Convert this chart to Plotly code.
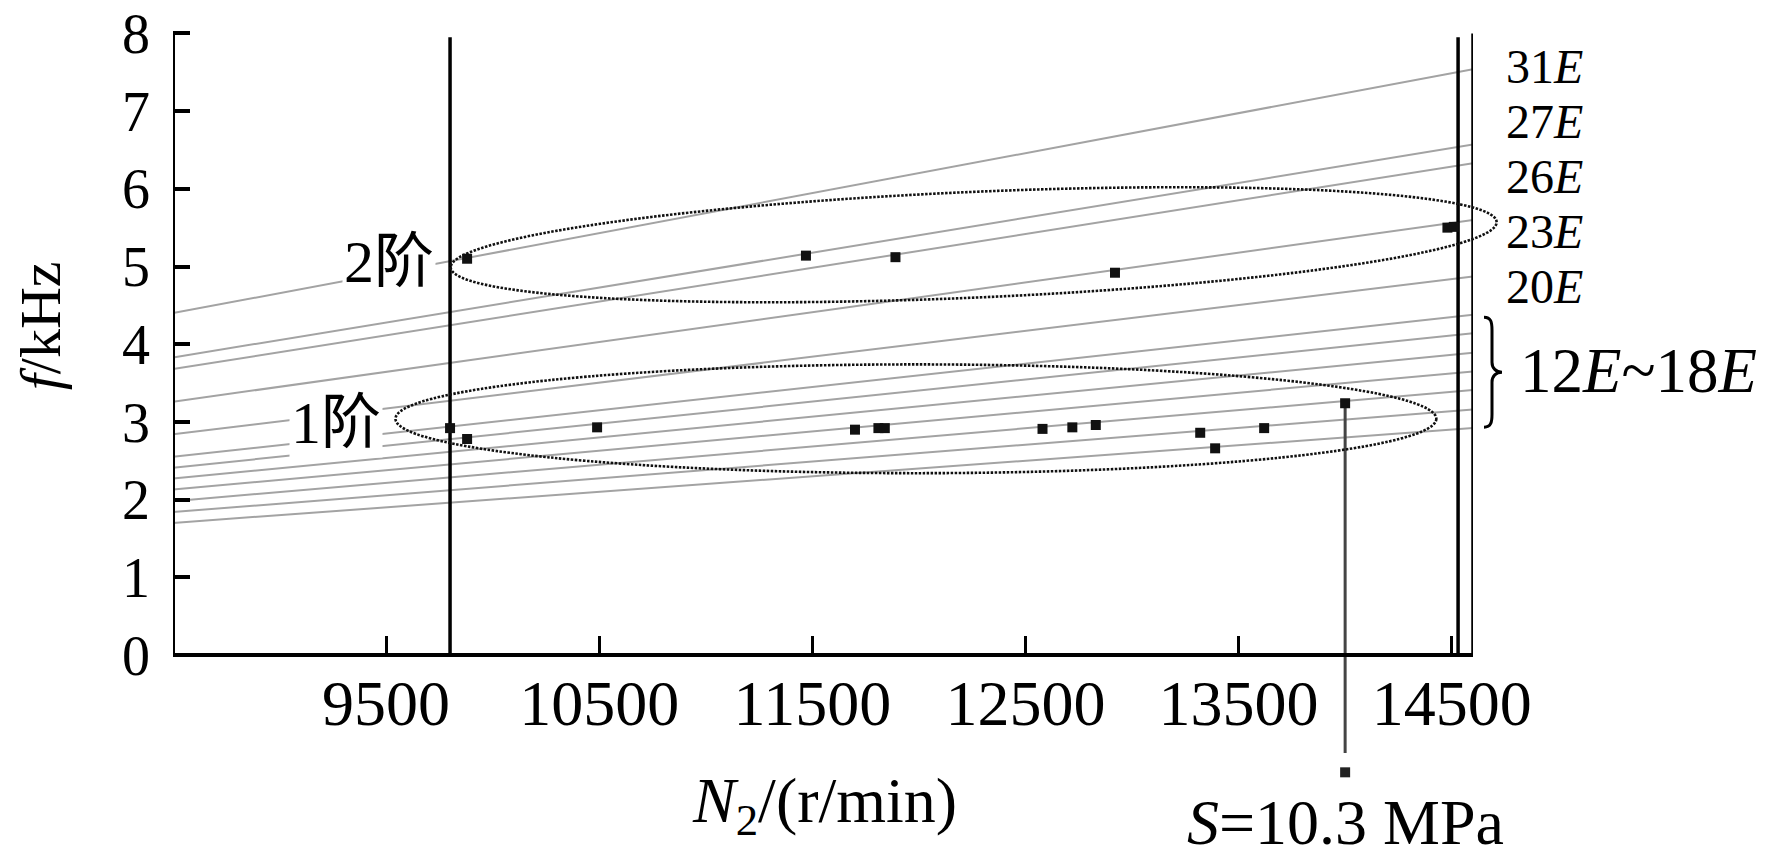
import numpy as np
import plotly.graph_objects as go

# engine-order lines, read at the two ends of the speed axis
orders = ["31E", "27E", "26E", "23E", "20E", "18E", "17E", "16E", "15E", "14E", "13E", "12E"]
n_ends = [8500, 14600]
f_left = [4.40, 3.83, 3.68, 3.26, 2.84, 2.55, 2.41, 2.27, 2.13, 1.98, 1.84, 1.70]
f_right = [7.54, 6.57, 6.33, 5.60, 4.87, 4.38, 4.14, 3.89, 3.65, 3.41, 3.16, 2.92]

# measured resonance points
n_mode1 = [9800, 9880, 10490, 11700, 11810, 11840, 12580, 12720, 12830, 13320, 13390, 13620, 14000]
f_mode1 = [2.92, 2.78, 2.93, 2.90, 2.92, 2.92, 2.91, 2.93, 2.96, 2.86, 2.66, 2.92, 3.24]
n_mode2 = [9880, 11470, 11890, 12920, 14480, 14510]
f_mode2 = [5.10, 5.14, 5.12, 4.92, 5.50, 5.51]

# stress callout
n_stress = [14000]
f_stress_line = [3.24, -1.26]
f_stress_mark = [-1.51]
stress_text = "<i>S</i>=10.3 MPa"

# speed limit lines
n_vlines = [9800, 14530, 14600]
f_vtop = [7.95, 7.95, 8.0]

# ellipses: centre, half-width, half-height, shear
ell1 = dict(cx=11986, cy=3.04, a=2442, b=0.70)
ell2 = dict(cx=12257, cy=5.28, a=2454, b=0.681, s=0.29)

right_labels = ["31<i>E</i>", "27<i>E</i>", "26<i>E</i>", "23<i>E</i>", "20<i>E</i>"]
right_label_f = [7.58, 6.87, 6.16, 5.45, 4.74]

x_ticks = [9500, 10500, 11500, 12500, 13500, 14500]
y_ticks = [0, 1, 2, 3, 4, 5, 6, 7, 8]
y_lo, y_hi = -2.69, 8.43

FONT = "Liberation Serif, Noto Sans CJK SC, serif"
ELL_LINE = dict(color="#111111", width=2.6, dash="2.5px,1.5px")

fig = go.Figure()

for i, name in enumerate(orders):
    fig.add_trace(go.Scatter(x=n_ends, y=[f_left[i], f_right[i]], mode="lines",
                             line=dict(color="#a3a3a3", width=2), name=name,
                             showlegend=False, hoverinfo="skip"))

for n, top in zip(n_vlines, f_vtop):
    fig.add_trace(go.Scatter(x=[n, n], y=[0, top], mode="lines",
                             line=dict(color="black", width=3.5),
                             showlegend=False, hoverinfo="skip"))

fig.add_trace(go.Scatter(x=n_stress * 2, y=f_stress_line, mode="lines",
                         line=dict(color="#444444", width=3),
                         showlegend=False, hoverinfo="skip"))
fig.add_trace(go.Scatter(x=n_stress, y=f_stress_mark, mode="markers",
                         marker=dict(symbol="square", size=10, color="#222222"),
                         showlegend=False, hoverinfo="skip"))

fig.add_trace(go.Scatter(x=n_mode1, y=f_mode1, mode="markers", name="1阶",
                         marker=dict(symbol="square", size=10, color="#111111"),
                         showlegend=False))
fig.add_trace(go.Scatter(x=n_mode2, y=f_mode2, mode="markers", name="2阶",
                         marker=dict(symbol="square", size=10, color="#111111"),
                         showlegend=False))

# 1st-mode ellipse
fig.add_shape(type="circle", xref="x", yref="y",
              x0=ell1["cx"] - ell1["a"], x1=ell1["cx"] + ell1["a"],
              y0=ell1["cy"] - ell1["b"], y1=ell1["cy"] + ell1["b"],
              line=ELL_LINE)

# 2nd-mode ellipse is tilted and pokes out past the frame, so draw it in paper units
t = np.linspace(0, 2 * np.pi, 240)
ex = ell2["cx"] + ell2["a"] * np.cos(t)
ey = ell2["cy"] + ell2["b"] * np.sin(t) + ell2["s"] * np.cos(t)
px = (ex - n_ends[0]) / (n_ends[1] - n_ends[0])
py = (ey - y_lo) / (y_hi - y_lo)
path = "M" + " L".join(f"{a:.5f},{b:.5f}" for a, b in zip(px, py)) + " Z"
fig.add_shape(type="path", xref="paper", yref="paper", path=path, line=ELL_LINE)

# y axis line only from 0 to 8
fig.add_shape(type="line", xref="x", yref="y", x0=n_ends[0], x1=n_ends[0],
              y0=0, y1=8, line=dict(color="black", width=4))

# right-hand brace for 12E~18E
fig.add_shape(type="path", xref="paper", yref="y",
              xsizemode="pixel", ysizemode="pixel", xanchor=1, yanchor=3.64,
              path="M11,55 C18,55 19,50 19,42 L19,10 C19,4 23,0 29,0 "
                   "C23,0 19,-4 19,-10 L19,-42 C19,-50 18,-55 11,-55",
              line=dict(color="black", width=3))

ann = []
for txt, yv in zip(right_labels, right_label_f):
    ann.append(dict(text=txt, xref="paper", x=1, xanchor="left", xshift=31,
                    yref="y", y=yv, yanchor="middle", showarrow=False,
                    font=dict(size=48)))
ann.append(dict(text="12<i>E</i>~18<i>E</i>", xref="paper", x=1, xanchor="left",
                xshift=45, yref="y", y=3.66, yanchor="middle", showarrow=False,
                font=dict(size=63)))
ann.append(dict(text="2阶", xref="x", x=n_vlines[0], xanchor="right", xshift=-14,
                yref="y", y=5.06, yanchor="middle", showarrow=False,
                bgcolor="white", font=dict(size=60)))
ann.append(dict(text="1阶", xref="x", x=n_vlines[0], xanchor="right", xshift=-67,
                yref="y", y=2.99, yanchor="middle", showarrow=False,
                bgcolor="white", font=dict(size=60)))
ann.append(dict(text="<i>f</i>/kHz", xref="paper", x=0, xshift=-133, xanchor="center",
                yref="y", y=4.23, yanchor="middle", textangle=-90, showarrow=False,
                font=dict(size=58)))
ann.append(dict(text="<i>N</i><sub>2</sub>/(r/min)", xref="x", x=11555,
                yref="y", y=-1.93, yanchor="middle", showarrow=False,
                font=dict(size=64)))
ann.append(dict(text=stress_text, xref="x", x=n_stress[0], yref="y", y=-2.15,
                yanchor="middle", showarrow=False, font=dict(size=64)))

fig.update_layout(
    width=1772, height=864,
    margin=dict(l=173, r=299, t=0, b=0),
    plot_bgcolor="white", paper_bgcolor="white",
    font=dict(family=FONT, color="black"),
    annotations=ann,
    xaxis=dict(range=n_ends, anchor="free",
               position=(0 - y_lo) / (y_hi - y_lo),
               showline=True, linecolor="black", linewidth=4,
               showgrid=False, zeroline=False,
               tickmode="array", tickvals=x_ticks, ticktext=[str(v) for v in x_ticks],
               ticks="inside", ticklen=17, tickwidth=3, tickcolor="black",
               ticklabelstandoff=-9, tickfont=dict(size=64)),
    yaxis=dict(range=[y_lo, y_hi], showline=False, showgrid=False, zeroline=False,
               tickmode="array", tickvals=y_ticks,
               ticks="inside", ticklen=17, tickwidth=4, tickcolor="black",
               ticklabelstandoff=22, tickfont=dict(size=56)),
)

fig.write_html("out.html", config={"displayModeBar": False},
               post_script="document.body.style.margin='0';")
